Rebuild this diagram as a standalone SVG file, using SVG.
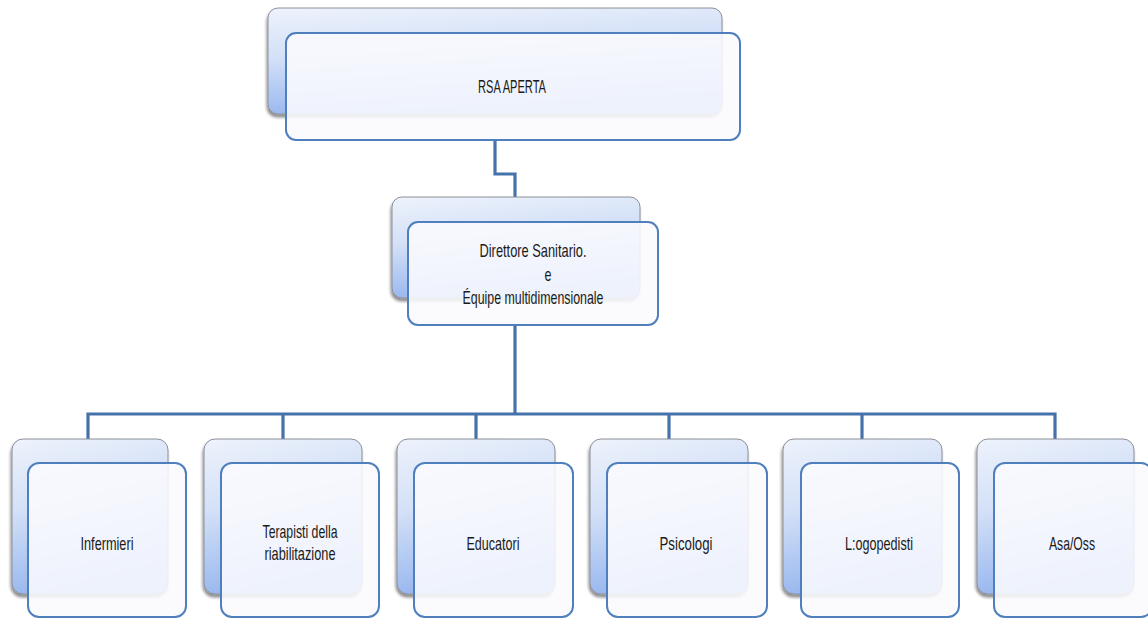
<svg xmlns="http://www.w3.org/2000/svg" width="1148" height="619" viewBox="0 0 1148 619">
<defs>
<linearGradient id="backGrad" x1="0" y1="0" x2="0.25" y2="1">
<stop offset="0" stop-color="#eef3fc"/>
<stop offset="0.45" stop-color="#d3e0f7"/>
<stop offset="1" stop-color="#95b5ee"/>
</linearGradient>
<filter id="shadow" x="-10%" y="-10%" width="120%" height="125%">
<feGaussianBlur in="SourceAlpha" stdDeviation="1.5"/>
<feOffset dx="-1" dy="3" result="b"/>
<feComponentTransfer><feFuncA type="linear" slope="0.45"/></feComponentTransfer>
<feMerge><feMergeNode/><feMergeNode in="SourceGraphic"/></feMerge>
</filter>
</defs>
<style>
.back{fill:url(#backGrad);stroke:#8a8f99;stroke-width:1;filter:url(#shadow);}
.front{fill:#fafbfe;fill-opacity:0.88;stroke:#4f7fbd;stroke-width:2;}
.conn{fill:none;stroke:#4672ab;stroke-width:3.2;stroke-linejoin:miter;}
.lbl{font-family:"Liberation Sans Narrow","Liberation Sans",Arial,sans-serif;font-size:19px;fill:#1a1a1a;text-anchor:middle;}
</style>
<rect width="1148" height="619" fill="#ffffff"/>
<g id="connectors">
<polyline class="conn" points="495,140 495,174 515,174 515,197"/>
<line class="conn" x1="515" y1="325" x2="515" y2="414"/>
<polyline class="conn" points="88,439 88,414 1055,414 1055,439"/>
<line class="conn" x1="283" y1="414" x2="283" y2="439"/>
<line class="conn" x1="476" y1="414" x2="476" y2="439"/>
<line class="conn" x1="669" y1="414" x2="669" y2="439"/>
<line class="conn" x1="862" y1="414" x2="862" y2="439"/>
</g>
<g id="node-rsa">
<rect class="back" x="268" y="8" width="454" height="106" rx="10"/>
<rect class="front" x="286" y="33" width="454" height="107" rx="10"/>
<text class="lbl" x="512" y="93" textLength="68" lengthAdjust="spacingAndGlyphs">RSA APERTA</text>
</g>
<g id="node-direttore">
<rect class="back" x="392" y="197" width="248" height="101" rx="10"/>
<rect class="front" x="408" y="222" width="250" height="103" rx="10"/>
<text class="lbl" x="533" y="257" textLength="107" lengthAdjust="spacingAndGlyphs">Direttore Sanitario.</text>
<text class="lbl" x="548" y="281" textLength="7" lengthAdjust="spacingAndGlyphs">e</text>
<text class="lbl" x="533" y="304" textLength="141" lengthAdjust="spacingAndGlyphs">Équipe multidimensionale</text>
</g>
<g id="node-infermieri">
<rect class="back" x="12" y="439" width="156" height="155" rx="11"/>
<rect class="front" x="28" y="463" width="158" height="154" rx="11"/>
<text class="lbl" x="107" y="550" textLength="53" lengthAdjust="spacingAndGlyphs">Infermieri</text>
</g>
<g id="node-terapisti">
<rect class="back" x="204" y="439" width="158" height="155" rx="11"/>
<rect class="front" x="221" y="463" width="158" height="154" rx="11"/>
<text class="lbl" x="300" y="538" textLength="75" lengthAdjust="spacingAndGlyphs">Terapisti della</text>
<text class="lbl" x="300" y="560" textLength="71" lengthAdjust="spacingAndGlyphs">riabilitazione</text>
</g>
<g id="node-educatori">
<rect class="back" x="397" y="439" width="158" height="155" rx="11"/>
<rect class="front" x="414" y="463" width="159" height="154" rx="11"/>
<text class="lbl" x="493" y="550" textLength="53" lengthAdjust="spacingAndGlyphs">Educatori</text>
</g>
<g id="node-psicologi">
<rect class="back" x="590" y="439" width="158" height="155" rx="11"/>
<rect class="front" x="607" y="463" width="160" height="154" rx="11"/>
<text class="lbl" x="686" y="550" textLength="53" lengthAdjust="spacingAndGlyphs">Psicologi</text>
</g>
<g id="node-logopedisti">
<rect class="back" x="783" y="439" width="159" height="155" rx="11"/>
<rect class="front" x="801" y="463" width="158" height="154" rx="11"/>
<text class="lbl" x="879" y="550" textLength="68" lengthAdjust="spacingAndGlyphs">L:ogopedisti</text>
</g>
<g id="node-asaoss">
<rect class="back" x="977" y="439" width="157" height="155" rx="11"/>
<rect class="front" x="994" y="463" width="158" height="154" rx="11"/>
<text class="lbl" x="1072" y="550" textLength="46" lengthAdjust="spacingAndGlyphs">Asa/Oss</text>
</g>
</svg>
